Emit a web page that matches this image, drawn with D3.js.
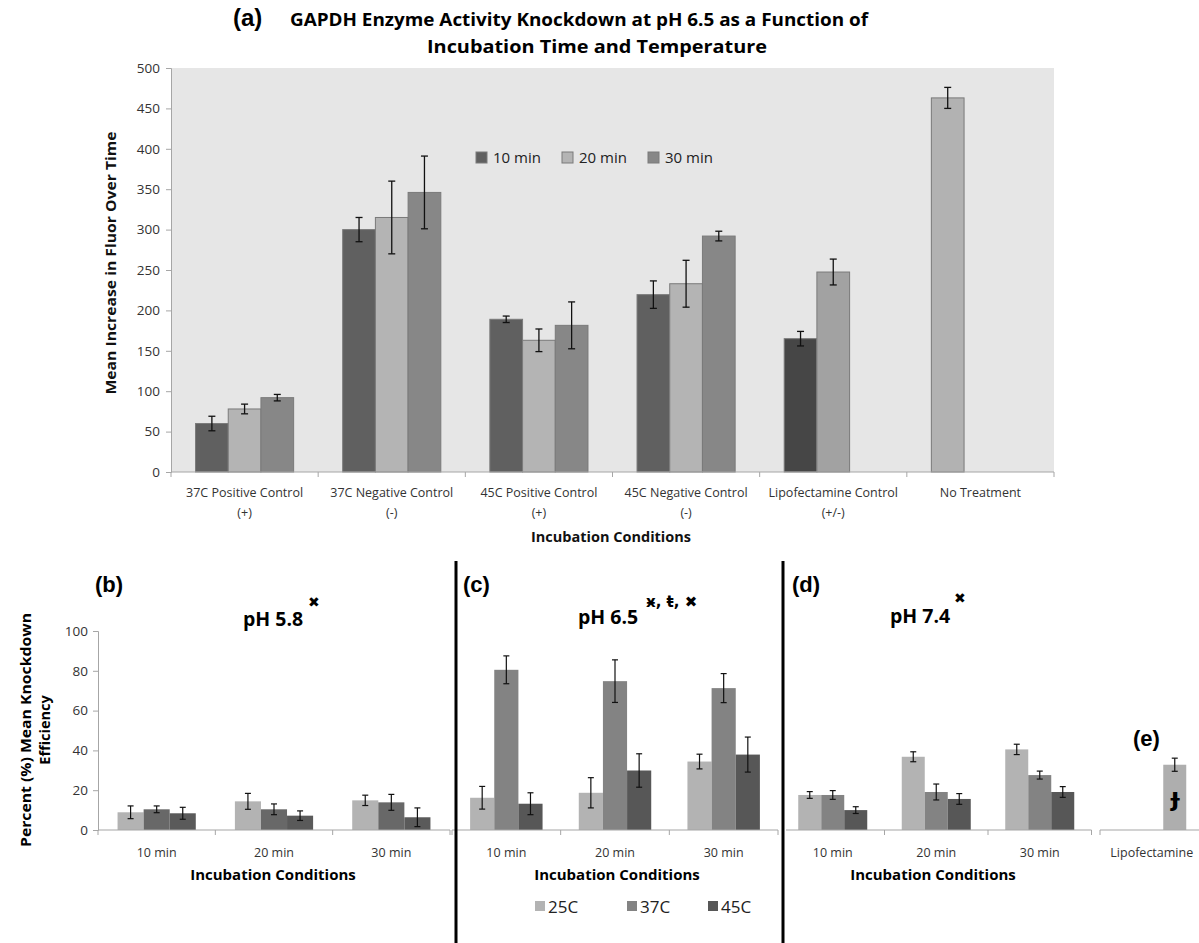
<!DOCTYPE html>
<html><head><meta charset="utf-8">
<script src="https://cdn.jsdelivr.net/npm/d3@7"></script>
<style>
body{margin:0;background:#fff;}
svg{display:block;font-family:"Open Sans",sans-serif;}
</style></head>
<body>
<svg id="chart" width="1199" height="943"></svg>
<script>
// ---------- Data: panel (a) ----------
const categoriesA = ["37C Positive Control\n(+)", "37C Negative Control\n(-)", "45C Positive Control\n(+)", "45C Negative Control\n(-)", "Lipofectamine Control\n(+/-)", "No Treatment"];
const seriesNamesA = ["10 min", "20 min", "30 min"];
const values10 = [60, 300, 189, 219.5, 165, 463];
const values20 = [78, 315, 163, 233, 247.5, null];
const values30 = [92, 346, 181.5, 292, null, null];
const errors10 = [9, 15, 4, 17, 9, 13];
const errors20 = [6, 45, 14, 29, 16, null];
const errors30 = [4, 45, 29, 6, null, null];
const yTicksA = [0, 50, 100, 150, 200, 250, 300, 350, 400, 450, 500];

// ---------- Data: panels (b)-(e) ----------
const timeCats = ["10 min", "20 min", "30 min"];
const tempNames = ["25C", "37C", "45C"];
const yTicksB = [0, 20, 40, 60, 80, 100];
// pH 5.8
const ph58_25 = [8.9, 14.4, 14.9];
const ph58_37 = [10.4, 10.4, 13.9];
const ph58_45 = [8.4, 7.2, 6.4];
const ph58_err25 = [3.2, 4, 2.6];
const ph58_err37 = [1.7, 2.7, 4];
const ph58_err45 = [3, 2.4, 4.7];
// pH 6.5
const ph65_25 = [16.2, 18.7, 34.4];
const ph65_37 = [80.5, 74.8, 71.3];
const ph65_45 = [13.2, 29.9, 37.9];
const ph65_err25 = [5.7, 7.6, 3.7];
const ph65_err37 = [7, 10.7, 7.3];
const ph65_err45 = [5.5, 8.4, 8.8];
// pH 7.4
const ph74_25 = [17.6, 36.8, 40.5];
const ph74_37 = [17.6, 19.1, 27.6];
const ph74_45 = [10, 15.6, 19.1];
const ph74_err25 = [1.7, 2.5, 2.6];
const ph74_err37 = [2.2, 4, 2];
const ph74_err45 = [1.7, 2.7, 2.7];
// Lipofectamine (e)
const lipoCats = ["Lipofectamine"];
const lipoValue = [32.8];
const lipoError = [3.3];

// ---------- Styles ----------
const svg = d3.select("#chart");
const colorsA = ["#606060", "#b4b4b4", "#878787"];
const lipoColorsA = ["#464646", "#a2a2a2"];
const noTreatColor = "#b2b2b2";
const tempColors = ["#b3b3b3", "#838383", "#575757"];
const tempColorsB = ["#b3b3b3", "#686868", "#5a5a5a"];
const axisColor = "#a6a6a6";
const textColor = "#333";

// ================= Panel (a) =================
const xA = d3.scaleBand().domain(categoriesA).range([171, 1054]).padding(0);
const xAin = d3.scaleBand().domain(seriesNamesA).range([0, xA.bandwidth()]).paddingInner(0).paddingOuter(0.75);
const yA = d3.scaleLinear().domain([0, 500]).range([472, 68]);

svg.append("rect").attr("x", 171).attr("y", yA(500)).attr("width", 1054 - 171).attr("height", yA(0) - yA(500)).attr("fill", "#e6e6e6");

const seriesA = [values10, values20, values30];
const errsA = [errors10, errors20, errors30];
const gA = svg.append("g");
seriesA.forEach((vals, si) => {
  vals.forEach((v, ci) => {
    if (v == null) return;
    let fill = colorsA[si];
    if (ci === 4) fill = lipoColorsA[si];
    if (ci === 5) fill = noTreatColor;
    const x0 = xA(categoriesA[ci]) + xAin(seriesNamesA[si]);
    const w = xAin.bandwidth();
    gA.append("rect").attr("x", x0).attr("y", yA(v)).attr("width", w).attr("height", yA(0) - yA(v))
      .attr("fill", fill).attr("stroke", "#7a7a7a").attr("stroke-width", 1);
    const e = errsA[si][ci];
    if (e != null) {
      const cx = x0 + w / 2;
      gA.append("line").attr("x1", cx).attr("x2", cx).attr("y1", yA(v + e)).attr("y2", yA(v - e)).attr("stroke", "#111").attr("stroke-width", 1.3);
      [v + e, v - e].forEach(t => gA.append("line").attr("x1", cx - 3.5).attr("x2", cx + 3.5).attr("y1", yA(t)).attr("y2", yA(t)).attr("stroke", "#111").attr("stroke-width", 1.3));
    }
  });
});

// axes (a)
const yAxisA = d3.axisLeft(yA).tickValues(yTicksA).tickSize(5).tickPadding(6);
const gyA = svg.append("g").attr("transform", "translate(171,0)").call(yAxisA);
gyA.select(".domain").attr("stroke", axisColor);
gyA.selectAll(".tick line").attr("stroke", axisColor);
gyA.selectAll(".tick text").attr("fill", textColor).style("font-size", "13.5px").style("font-family", "Open Sans");

svg.append("line").attr("x1", 171).attr("x2", 1054).attr("y1", yA(0)).attr("y2", yA(0)).attr("stroke", axisColor);
const boundsA = categoriesA.map(c => xA(c)).concat([1054]);
boundsA.forEach(b => svg.append("line").attr("x1", b).attr("x2", b).attr("y1", yA(0)).attr("y2", yA(0) + 5).attr("stroke", axisColor));

categoriesA.forEach(c => {
  const lines = c.split("\n");
  const cx = xA(c) + xA.bandwidth() / 2;
  lines.forEach((l, i) => {
    svg.append("text").attr("x", cx).attr("y", 497 + i * 20).attr("text-anchor", "middle")
      .attr("fill", textColor).style("font-size", "12.5px").text(l);
  });
});
svg.append("text").attr("x", 611).attr("y", 542).attr("text-anchor", "middle").attr("fill", "#111")
  .style("font-size", "14.5px").style("font-weight", "bold").text("Incubation Conditions");
svg.append("text").attr("transform", "translate(116,263) rotate(-90)").attr("text-anchor", "middle").attr("fill", "#111")
  .style("font-size", "14.5px").style("font-weight", "bold").attr("textLength", 263).attr("lengthAdjust", "spacingAndGlyphs")
  .text("Mean Increase in Fluor Over Time");

// legend (a)
const legX = [476, 562, 648];
seriesNamesA.forEach((n, i) => {
  svg.append("rect").attr("x", legX[i]).attr("y", 152).attr("width", 11).attr("height", 11).attr("fill", colorsA[i]).attr("stroke", "#7a7a7a");
  svg.append("text").attr("x", legX[i] + 17).attr("y", 163).attr("fill", "#222").style("font-size", "15px").text(n);
});

// title (a)
svg.append("text").attr("x", 233).attr("y", 26).attr("fill", "#000").style("font-family", "Liberation Sans, Arial").style("font-weight", "bold").style("font-size", "24px").text("(a)");
svg.append("text").attr("x", 290).attr("y", 26).attr("fill", "#000").style("font-weight", "bold").style("font-size", "18px")
  .attr("textLength", 578).attr("lengthAdjust", "spacingAndGlyphs").text("GAPDH Enzyme Activity Knockdown at pH 6.5 as a Function of");
svg.append("text").attr("x", 427).attr("y", 53).attr("fill", "#000").style("font-weight", "bold").style("font-size", "18px")
  .attr("textLength", 340).attr("lengthAdjust", "spacingAndGlyphs").text("Incubation Time and Temperature");

// ================= Panels (b)-(e) =================
const yB = d3.scaleLinear().domain([0, 100]).range([830, 631]);

function drawPanel(cats, seriesVals, seriesErrs, names, colors, x0, x1, axisStart, drawSlots) {
  const x = d3.scaleBand().domain(cats).range([x0, x1]).padding(0);
  const xin = d3.scaleBand().domain(names).range([0, x.bandwidth()]).paddingInner(0).paddingOuter(0.75);
  const g = svg.append("g");
  seriesVals.forEach((vals, si) => {
    vals.forEach((v, ci) => {
      if (v == null) return;
      const slot = drawSlots ? drawSlots[si] : names[si];
      const bx = x(cats[ci]) + xin(slot);
      const w = xin.bandwidth();
      g.append("rect").attr("x", bx).attr("y", yB(v)).attr("width", w).attr("height", yB(0) - yB(v)).attr("fill", colors[si]);
      const e = seriesErrs[si][ci];
      const cx = bx + w / 2;
      g.append("line").attr("x1", cx).attr("x2", cx).attr("y1", yB(v + e)).attr("y2", yB(Math.max(0, v - e))).attr("stroke", "#111").attr("stroke-width", 1.2);
      [v + e, v - e].forEach(t => g.append("line").attr("x1", cx - 3).attr("x2", cx + 3).attr("y1", yB(t)).attr("y2", yB(t)).attr("stroke", "#111").attr("stroke-width", 1.2));
    });
  });
  svg.append("line").attr("x1", axisStart).attr("x2", x1).attr("y1", yB(0)).attr("y2", yB(0)).attr("stroke", axisColor).attr("stroke-width", 1.2);
  const bounds = cats.map(c => x(c)).concat([x1]);
  bounds.forEach(b => { if (b >= axisStart) svg.append("line").attr("x1", b).attr("x2", b).attr("y1", yB(0)).attr("y2", yB(0) + 5).attr("stroke", axisColor); });
  cats.forEach(c => {
    svg.append("text").attr("x", x(c) + x.bandwidth() / 2).attr("y", 857).attr("text-anchor", "middle").attr("fill", textColor).style("font-size", "12.5px").text(c);
  });
  return x;
}

// (b)
drawPanel(timeCats, [ph58_25, ph58_37, ph58_45], [ph58_err25, ph58_err37, ph58_err45], tempNames, tempColorsB, 98, 450, 98);
const yAxisB = d3.axisLeft(yB).tickValues(yTicksB).tickSize(5).tickPadding(5);
const gyB = svg.append("g").attr("transform", "translate(98,0)").call(yAxisB);
gyB.select(".domain").attr("stroke", axisColor);
gyB.selectAll(".tick line").attr("stroke", axisColor);
gyB.selectAll(".tick text").attr("fill", textColor).style("font-size", "13.5px").style("font-family", "Open Sans");

// (c)
drawPanel(timeCats, [ph65_25, ph65_37, ph65_45], [ph65_err25, ph65_err37, ph65_err45], tempNames, tempColors, 452, 778, 452);
// (d)
drawPanel(timeCats, [ph74_25, ph74_37, ph74_45], [ph74_err25, ph74_err37, ph74_err45], tempNames, tempColors, 781, 1091.5, 786);
// (e)
drawPanel(lipoCats, [lipoValue], [lipoError], tempNames, ["#aeaeae"], 1100, 1203.5, 1100, ["45C"]);

// labels bottom
const bold = (x, y, t, size, anchor, fam) => svg.append("text").attr("x", x).attr("y", y).attr("text-anchor", anchor || "start")
  .attr("fill", "#000").style("font-weight", "bold").style("font-size", size + "px").style("font-family", fam || "Open Sans").text(t);

bold(95, 592, "(b)", 22, "start", "Liberation Sans, Arial");
bold(463, 592, "(c)", 22, "start", "Liberation Sans, Arial");
bold(792, 592, "(d)", 22, "start", "Liberation Sans, Arial");
bold(1133, 746, "(e)", 22, "start", "Liberation Sans, Arial");

bold(243, 626, "pH 5.8", 19.5);
bold(578, 624, "pH 6.5", 19.5);
bold(890, 623, "pH 7.4", 19.5);

// superscripts
svg.append("text").attr("x", 308).attr("y", 607).attr("fill", "#000").style("font-family", "DejaVu Sans").style("font-weight", "bold").style("font-size", "14px").text("✖");
svg.append("text").attr("x", 646).attr("y", 607).attr("fill", "#000").style("font-family", "DejaVu Sans").style("font-weight", "bold").style("font-size", "15px").text("ӿ, ŧ, ✖");
svg.append("text").attr("x", 954).attr("y", 603).attr("fill", "#000").style("font-family", "DejaVu Sans").style("font-weight", "bold").style("font-size", "14px").text("✖");
svg.append("text").attr("x", 1175).attr("y", 806).attr("text-anchor", "middle").attr("fill", "#000").style("font-family", "DejaVu Sans").style("font-weight", "bold").style("font-size", "24px").text("ɟ");

bold(273, 880, "Incubation Conditions", 15, "middle");
bold(617, 880, "Incubation Conditions", 15, "middle");
bold(933, 880, "Incubation Conditions", 15, "middle");

// y label bottom
svg.append("text").attr("transform", "translate(31,730) rotate(-90)").attr("text-anchor", "middle").attr("fill", "#000")
  .style("font-weight", "bold").style("font-size", "14.5px").attr("textLength", 234).attr("lengthAdjust", "spacingAndGlyphs").text("Percent (%) Mean Knockdown");
svg.append("text").attr("transform", "translate(50,730) rotate(-90)").attr("text-anchor", "middle").attr("fill", "#000")
  .style("font-weight", "bold").style("font-size", "14.5px").text("Efficiency");

// legend (c)
const legCX = [535, 627, 708];
tempNames.forEach((n, i) => {
  svg.append("rect").attr("x", legCX[i]).attr("y", 901).attr("width", 10).attr("height", 10).attr("fill", tempColors[i]);
  svg.append("text").attr("x", legCX[i] + 13).attr("y", 913).attr("fill", "#222").style("font-size", "17px").text(n);
});

// separators
[456, 783].forEach(xs => svg.append("line").attr("x1", xs).attr("x2", xs).attr("y1", 561).attr("y2", 943).attr("stroke", "#000").attr("stroke-width", 3));
</script>
</body></html>
